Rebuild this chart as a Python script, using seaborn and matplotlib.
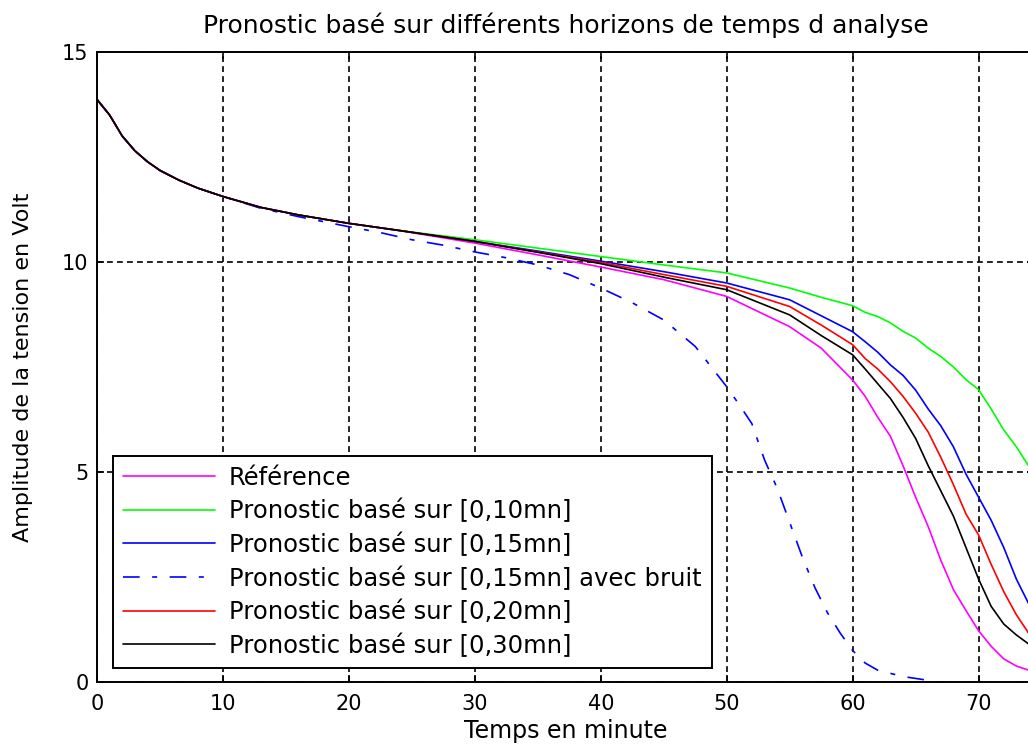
import numpy as np
import pandas as pd
import seaborn as sns
import matplotlib.pyplot as plt

# temps (minutes) commun aux courbes pleines
t = [0, 1, 2, 3, 4, 5, 6.5, 8, 10, 13, 16, 20, 24, 30, 35, 40, 45, 50, 55, 57.5,
     60, 61, 62, 63, 64, 65, 66, 67, 68, 69, 70, 71, 72, 73, 74]

# debut commun (0 -> 24 mn)
debut = [13.87, 13.5, 13.0, 12.65, 12.39, 12.18, 11.95, 11.76, 11.56, 11.3, 11.12, 10.92, 10.75]

reference = debut + [10.45, 10.17, 9.88, 9.58, 9.18, 8.46, 7.95,
                     7.19, 6.8, 6.3, 5.85, 5.15, 4.4, 3.7, 2.9, 2.2, 1.7, 1.22, 0.85, 0.55, 0.38, 0.28]
pron_10 = debut + [10.53, 10.33, 10.13, 9.93, 9.74, 9.38, 9.16,
                   8.96, 8.8, 8.7, 8.55, 8.35, 8.19, 7.95, 7.75, 7.5, 7.2, 6.96, 6.5, 6.0, 5.6, 5.13]
pron_15 = debut + [10.49, 10.26, 10.02, 9.77, 9.5, 9.1, 8.72,
                   8.34, 8.1, 7.85, 7.55, 7.3, 6.95, 6.5, 6.1, 5.6, 4.95, 4.4, 3.85, 3.2, 2.45, 1.85]
pron_20 = debut + [10.49, 10.24, 9.99, 9.7, 9.42, 8.94, 8.5,
                   8.03, 7.7, 7.45, 7.15, 6.8, 6.4, 5.95, 5.35, 4.7, 4.0, 3.5, 2.8, 2.15, 1.6, 1.15]
pron_30 = debut + [10.49, 10.23, 9.96, 9.64, 9.34, 8.74, 8.25,
                   7.79, 7.45, 7.1, 6.75, 6.3, 5.8, 5.15, 4.55, 3.95, 3.2, 2.45, 1.8, 1.38, 1.12, 0.9]

# courbe avec bruit (grille de temps propre)
t_bruit = [0, 1, 2, 3, 4, 5, 6.5, 8, 10, 13, 16, 20, 22.5, 25, 27.5, 30, 32.5, 35, 37.5, 40,
           42.5, 45, 47.5, 50, 51, 52, 53, 54, 55, 56, 57, 58, 59, 60, 61, 62, 64, 66]
pron_15_bruit = [13.87, 13.5, 13.0, 12.65, 12.39, 12.18, 11.95, 11.76, 11.56, 11.28, 11.08,
                 10.84, 10.7, 10.53, 10.4, 10.24, 10.1, 9.93, 9.7, 9.38, 9.03, 8.62, 7.99,
                 7.03, 6.6, 6.15, 5.29, 4.62, 3.8, 2.98, 2.25, 1.65, 1.17, 0.75, 0.45, 0.28, 0.13, 0.04]

labels = ['Référence',
          'Pronostic basé sur [0,10mn]',
          'Pronostic basé sur [0,15mn]',
          'Pronostic basé sur [0,15mn] avec bruit',
          'Pronostic basé sur [0,20mn]',
          'Pronostic basé sur [0,30mn]']

sns.set_style('ticks')
plt.rcParams['font.family'] = ['DejaVu Sans']
plt.rcParams['text.color'] = 'black'
plt.rcParams['axes.labelcolor'] = 'black'

fig = plt.figure(figsize=(10.28, 7.46), dpi=100)
ax = fig.add_axes([97 / 1028, 64 / 746, 937 / 1028, 630 / 746])

series = [
    (t, reference, '#ff00ff', '-'),
    (t, pron_10, '#00ff00', '-'),
    (t, pron_15, '#0000ff', '-'),
    (t_bruit, pron_15_bruit, '#0000ff', (0, (10, 7.5, 3, 7.5))),
    (t, pron_20, '#ff0000', '-'),
    (t, pron_30, '#000000', '-'),
]
for (x, y, c, ls), lab in zip(series, labels):
    df = pd.DataFrame({'t': x, 'v': y})
    sns.lineplot(data=df, x='t', y='v', color=c, linestyle=ls, linewidth=1.2,
                 label=lab, ax=ax, sort=False, estimator=None)

ax.set_xlim(0, 74.4)
ax.set_ylim(0, 15)
ax.set_xticks(np.arange(0, 80, 10))
ax.set_yticks([0, 5, 10, 15])
ax.grid(True, color='black', linestyle=(0, (3.5, 2.5)), linewidth=1.2)
ax.tick_params(direction='in', top=True, right=True, length=5, width=1.2,
               labelsize=15, colors='black')
ax.tick_params(axis='x', pad=9)
ax.tick_params(axis='y', pad=6)
for s in ax.spines.values():
    s.set_linewidth(1.4)
    s.set_color('black')

ax.set_title("Pronostic basé sur différents horizons de temps d analyse", fontsize=18, pad=14)
ax.set_xlabel('Temps en minute', fontsize=17, labelpad=3)
ax.set_ylabel('Amplitude de la tension en Volt', fontsize=16, labelpad=21)

leg = ax.legend(loc='lower left', bbox_to_anchor=(0.017, 0.022), fontsize=17.5,
                frameon=True, fancybox=False, edgecolor='black', framealpha=1,
                handlelength=3.8, handletextpad=0.55, borderpad=0.42, labelspacing=0.38,
                borderaxespad=0)
leg.get_frame().set_linewidth(1.4)

fig.savefig('out.png', dpi=100)
